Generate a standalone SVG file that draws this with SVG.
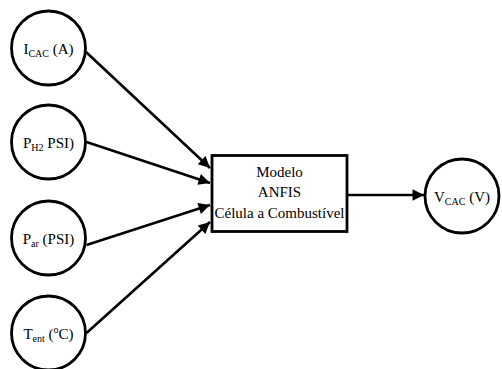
<svg xmlns="http://www.w3.org/2000/svg" width="502" height="369" viewBox="0 0 502 369">
<style>
.n{fill:#fff;stroke:#000;stroke-width:2.8}
.t{font-family:"Liberation Serif","Times New Roman",serif;font-size:15px;fill:#000;text-anchor:middle}
.s{font-size:10px}
.c line{stroke:#000;stroke-width:2.6}
</style>
<defs>
<marker id="ah" viewBox="0 0 10 10" refX="10" refY="5" markerWidth="6" markerHeight="4.4" markerUnits="strokeWidth" orient="auto">
<path d="M0,0 L10,5 L0,10 z" fill="#000"/>
</marker>
</defs>
<rect width="502" height="369" fill="#fff"/>
<g class="c" id="connectors">
<line x1="86" y1="52" x2="210" y2="168" marker-end="url(#ah)"/>
<line x1="86.5" y1="142" x2="210" y2="183" marker-end="url(#ah)"/>
<line x1="86.5" y1="245" x2="210" y2="205" marker-end="url(#ah)"/>
<line x1="86.5" y1="333" x2="210" y2="222" marker-end="url(#ah)"/>
<line x1="347" y1="195" x2="424" y2="195" marker-end="url(#ah)"/>
</g>
<g id="icac">
<circle class="n" cx="48.5" cy="48" r="37"/>
<text class="t" x="48.5" y="54">I<tspan class="s" dy="3">CAC</tspan><tspan dy="-3"> (A)</tspan></text>
</g>
<g id="ph2">
<circle class="n" cx="48.5" cy="142" r="37"/>
<text class="t" x="48.5" y="148">P<tspan class="s" dy="3">H2</tspan><tspan dy="-3"> PSI)</tspan></text>
</g>
<g id="par">
<circle class="n" cx="48.5" cy="238" r="37"/>
<text class="t" x="48.5" y="244">P<tspan class="s" dy="3">ar</tspan><tspan dy="-3"> (PSI)</tspan></text>
</g>
<g id="tent">
<circle class="n" cx="48.5" cy="333" r="37"/>
<text class="t" x="48.5" y="339">T<tspan class="s" dy="3">ent</tspan><tspan dy="-3"> (</tspan><tspan class="s" dy="-6">o</tspan><tspan dy="6">C)</tspan></text>
</g>
<g id="modelo">
<rect class="n" x="212" y="155.5" width="135" height="76" stroke-width="3"/>
<text class="t" x="279.5" y="177">Modelo</text>
<text class="t" x="279.5" y="197">ANFIS</text>
<text class="t" x="279.5" y="218">Célula a Combustível</text>
</g>
<g id="vcac">
<circle class="n" cx="462" cy="196" r="37"/>
<text class="t" x="462" y="202">V<tspan class="s" dy="3">CAC</tspan><tspan dy="-3"> (V)</tspan></text>
</g>
</svg>
